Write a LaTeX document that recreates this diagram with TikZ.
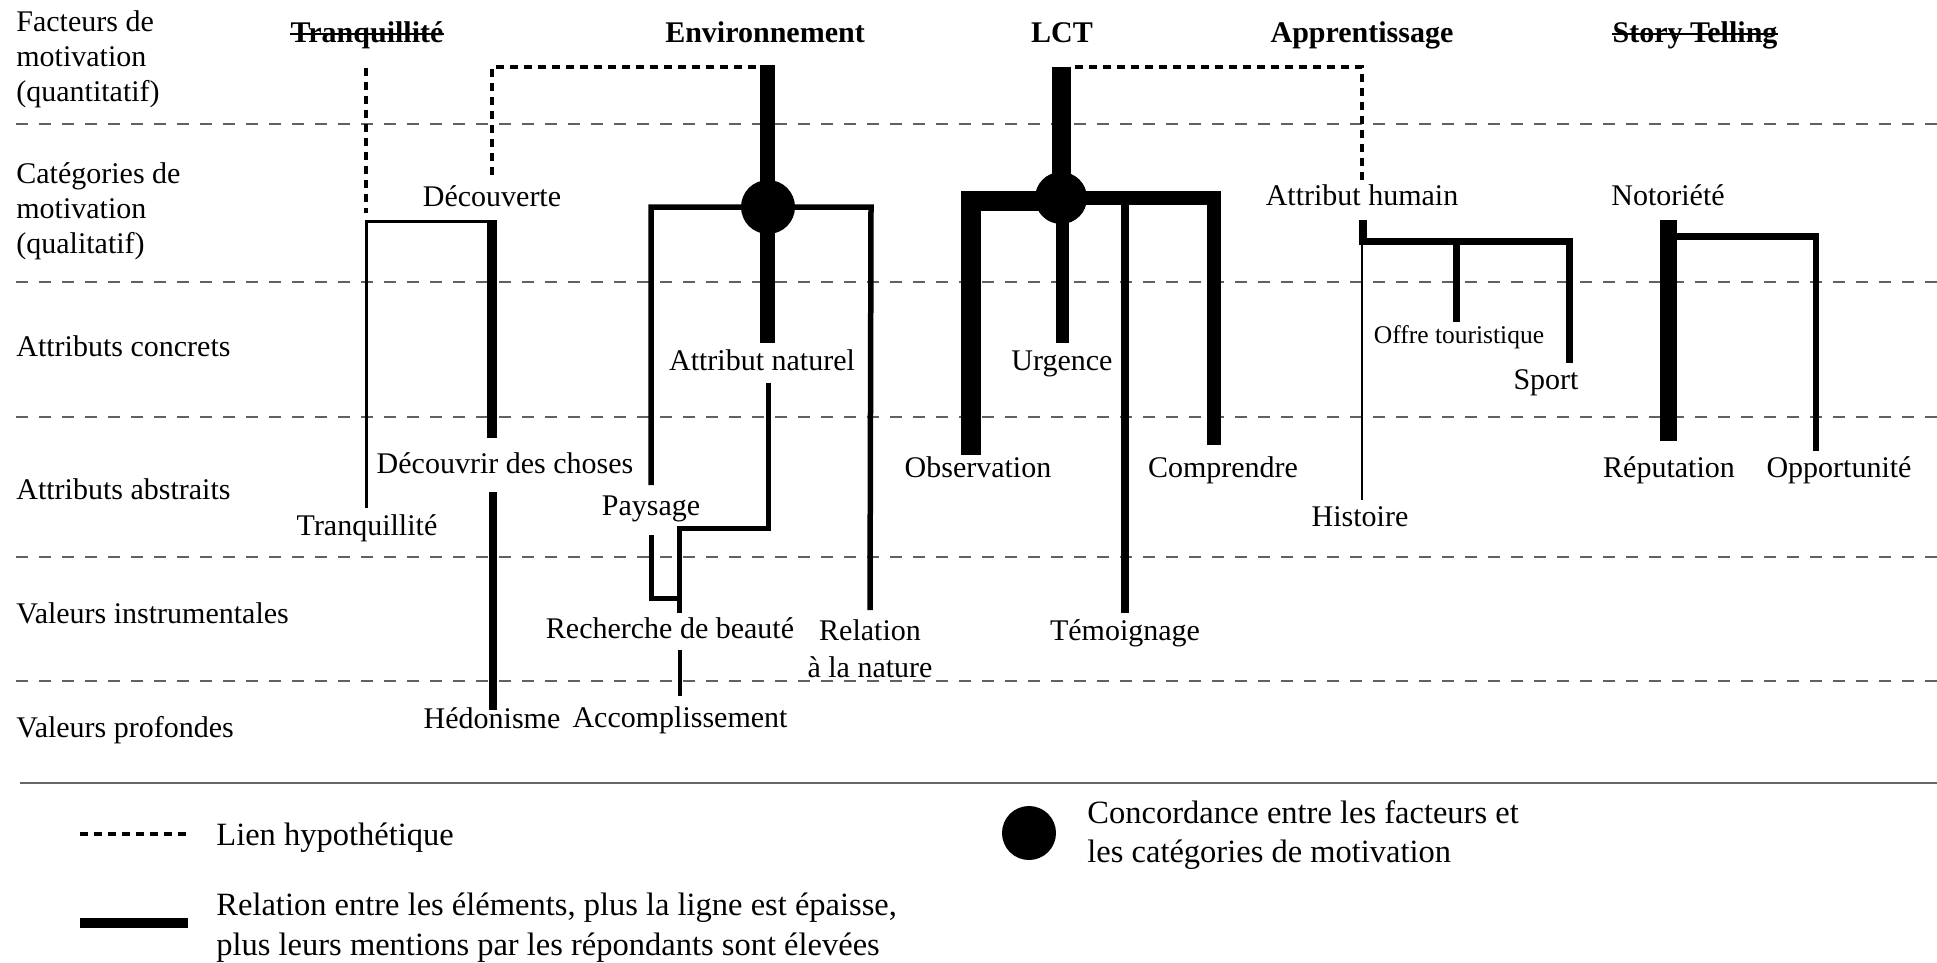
\documentclass[tikz,border=0pt]{standalone}
\usepackage{fontspec}
\setmainfont{Liberation Serif}
\begin{document}
\begin{tikzpicture}[x=0.5pt,y=-0.5pt,
  lab/.style={font=\fontsize{15}{17.5}\selectfont, inner sep=0pt, anchor=base},
  side/.style={lab, anchor=base west, align=left},
  ttl/.style={lab, font=\fontsize{15}{17.5}\selectfont\bfseries},
  small/.style={lab, font=\fontsize{12.75}{15}\selectfont},
  leg/.style={font=\fontsize{16.25}{19.5}\selectfont, inner sep=0pt, anchor=base west, align=left},
  gridline/.style={draw=black!62, line width=1pt, dash pattern=on 6pt off 5.5pt},
  sepline/.style={draw=black!60, line width=1.25pt},
  hypo/.style={line width=2pt, dash pattern=on 4pt off 3pt},
  strike/.style={line width=1pt},
  lw/.style={line width=#1pt},
  dot/.style={fill=black}]
\useasboundingbox (0,0) rectangle (1937,963);

% grid lines
\foreach \yy in {124,282,417,557,681} \draw[gridline] (16,\yy) -- (1937,\yy);

% left labels (base = last line)
\node[side] (s1) at (16,102) {Facteurs de\\motivation\\(quantitatif)};
\node[side] (s2) at (16,253) {Catégories de\\motivation\\(qualitatif)};
\node[side] (s3) at (16,356) {Attributs concrets};
\node[side] (s4) at (16,499) {Attributs abstraits};
\node[side] (s5) at (16,623) {Valeurs instrumentales};
\node[side] (s6) at (16,737) {Valeurs profondes};

% titles
\node[ttl] (tTr) at (367,43) {Tranquillité};
\node[ttl] (tEn) at (765,43) {Environnement};
\node[ttl] (tLc) at (1062,43) {LCT};
\node[ttl] (tAp) at (1362,43) {Apprentissage};
\node[ttl] (tSt) at (1695,43) {Story Telling};
\draw[strike] ([shift={(0,-9)}]tTr.base west) -- ([shift={(0,-9)}]tTr.base east);
\draw[strike] ([shift={(0,-9)}]tSt.base west) -- ([shift={(0,-9)}]tSt.base east);

% labels
\node[lab] (dec) at (492,206) {Découverte};
\node[lab] (ahu) at (1362,205) {Attribut humain};
\node[lab] (not) at (1668,205) {Notoriété};
\node[lab] (anat) at (762,370) {Attribut naturel};
\node[lab] (urg) at (1062,370) {Urgence};
\node[small] (off) at (1459,343) {Offre touristique};
\node[lab] (spo) at (1546,389) {Sport};
\node[lab] (ddc) at (505,473) {Découvrir des choses};
\node[lab] (obs) at (978,477) {Observation};
\node[lab] (com) at (1223,477) {Comprendre};
\node[lab] (rep) at (1669,477) {Réputation};
\node[lab] (opp) at (1839,477) {Opportunité};
\node[lab] (pay) at (651,515) {Paysage};
\node[lab] (tra) at (367,535) {Tranquillité};
\node[lab] (his) at (1360,526) {Histoire};
\node[lab] (rdb) at (670,638) {Recherche de beauté};
\node[lab, align=center, font=\fontsize{15}{18.5}\selectfont] (ran) at (870,677) {Relation\\à la nature};
\node[lab] (tem) at (1125,640) {Témoignage};
\node[lab] (hed) at (492,728) {Hédonisme};
\node[lab] (acc) at (680,727) {Accomplissement};

% coordinates
\coordinate (trA) at (366,68);   \coordinate (trB) at (366,213);
\coordinate (deA) at (492,175);  \coordinate (deB) at (492,67);  \coordinate (deC) at (760,67);
\coordinate (lcA) at (1075,67);  \coordinate (lcB) at (1362,67); \coordinate (lcC) at (1362,182);

% hypothetical links
\draw[hypo] (trA) -- (trB);
\draw[hypo] (deA) -- (deB) -- (deC);
\draw[hypo] (lcA) -- (lcB) -- (lcC);

% Tranquillite / Decouverte
\coordinate (tq1) at (366,508); \coordinate (tq2) at (366,221); \coordinate (tq3) at (494,221);
\draw[lw=1.5] (tq1) -- (tq2) -- (tq3);
\coordinate (dv1) at (492,220); \coordinate (dv2) at (492,438);
\draw[lw=5] (dv1) -- (dv2);
\coordinate (hd1) at (493,492); \coordinate (hd2) at (493,710);
\draw[lw=4] (hd1) -- (hd2);

% Environnement
\coordinate (en0) at (767,65); \coordinate (en1) at (767,343);
\draw[lw=7.5] (en0) -- (en1);
\coordinate (ep1) at (651,485); \coordinate (ep2) at (651,207); \coordinate (ep3) at (871,207); \coordinate (ep4) at (870,610);
\draw[lw=2.75] (ep1) -- (ep2) -- (ep3) -- (ep4);
\coordinate (an1) at (768,383); \coordinate (an2) at (768,528); \coordinate (an3) at (679.5,528); \coordinate (an4) at (679.5,613);
\draw[lw=2.5] (an1) -- (an2) -- (an3) -- (an4);
\coordinate (py1) at (651,535); \coordinate (py2) at (651,598); \coordinate (py3) at (679.5,598);
\draw[lw=2.5] (py1) -- (py2) -- (py3);
\coordinate (ac1) at (679.5,650); \coordinate (ac2) at (679.5,696);
\draw[lw=2] (ac1) -- (ac2);
\node[dot, circle, minimum size=27pt, inner sep=0pt] (cEn) at (768,207) {};

% LCT
\coordinate (lc0) at (1061.5,67); \coordinate (lcm) at (1061.5,198);
\draw[lw=9.5] (lc0) -- (lcm);
\coordinate (ob1) at (1061,201); \coordinate (ob2) at (970.5,201); \coordinate (ob3) at (970.5,455);
\draw[lw=10] (ob1) -- (ob2) -- (ob3);
\coordinate (cm1) at (1061,198); \coordinate (cm2) at (1213.5,198); \coordinate (cm3) at (1213.5,445);
\draw[lw=7] (cm1) -- (cm2) -- (cm3);
\coordinate (te1) at (1125,198); \coordinate (te2) at (1125,613);
\draw[lw=4] (te1) -- (te2);
\coordinate (ur1) at (1062,198); \coordinate (ur2) at (1062,343);
\draw[lw=6.5] (ur1) -- (ur2);
\node[dot, circle, minimum size=26pt, inner sep=0pt] (cLc) at (1061,198) {};

% Apprentissage
\coordinate (ah1) at (1363,220); \coordinate (ah2) at (1363,241.5); \coordinate (ah3) at (1569.5,241.5); \coordinate (ah4) at (1569.5,363);
\draw[lw=3.75] (ah1) -- (ah2) -- (ah3) -- (ah4);
\coordinate (of1) at (1456,241.5); \coordinate (of2) at (1456,322);
\draw[lw=3.5] (of1) -- (of2);
\coordinate (hi1) at (1362,243); \coordinate (hi2) at (1362,500);
\draw[lw=1.25] (hi1) -- (hi2);

% Notoriete
\coordinate (no1) at (1668.5,220); \coordinate (no2) at (1668.5,441);
\draw[lw=8.75] (no1) -- (no2);
\coordinate (op1) at (1668.5,236.5); \coordinate (op2) at (1816,236.5); \coordinate (op3) at (1816,451);
\draw[lw=3.25] (op1) -- (op2) -- (op3);

% legend
\coordinate (sp1) at (20,783); \coordinate (sp2) at (1937,783);
\draw[sepline] (sp1) -- (sp2);
\coordinate (lg1) at (80,834); \coordinate (lg2) at (188,834);
\draw[hypo] (lg1) -- (lg2);
\coordinate (lg3) at (80,923); \coordinate (lg4) at (188,923);
\draw[lw=5] (lg3) -- (lg4);
\node[dot, circle, minimum size=27pt, inner sep=0pt] (cLg) at (1029,833) {};
\node[leg] (lgt1) at (216,845) {Lien hypothétique};
\node[leg, font=\fontsize{16.25}{20}\selectfont] (lgt2) at (216,955) {Relation entre les éléments, plus la ligne est épaisse,\\plus leurs mentions par les répondants sont élevées};
\node[leg, font=\fontsize{16.25}{19.5}\selectfont] (lgt3) at (1087,862) {Concordance entre les facteurs et\\les catégories de motivation};
\end{tikzpicture}
\end{document}
